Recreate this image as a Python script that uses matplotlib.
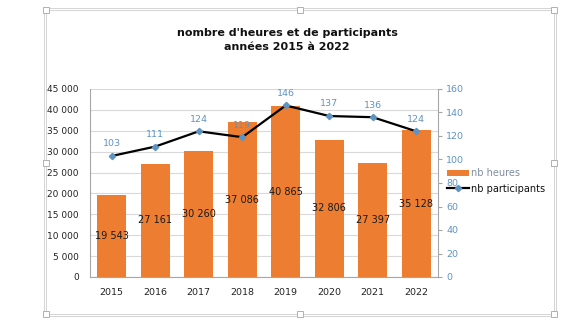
import matplotlib
matplotlib.use("Agg")
import matplotlib.pyplot as plt
from matplotlib.patches import Rectangle, Patch
from matplotlib.lines import Line2D

years = ["2015", "2016", "2017", "2018", "2019", "2020", "2021", "2022"]
heures = [19543, 27161, 30260, 37086, 40865, 32806, 27397, 35128]
participants = [103, 111, 124, 119, 146, 137, 136, 124]
left_ticks = [0, 5000, 10000, 15000, 20000, 25000, 30000, 35000, 40000, 45000]
right_ticks = [0, 20, 40, 60, 80, 100, 120, 140, 160]

ORANGE = "#ED7D31"
BLUE = "#5F93C2"
GRID = "#D9D9D9"
SPINE = "#A6A6A6"
FONT = "DejaVu Sans"

W, H = 573, 328
fig = plt.figure(figsize=(W / 100, H / 100), dpi=100)
fig.patch.set_facecolor("white")


def fx(px):
    return px / W


def fy(py):
    return 1 - py / H


ax = fig.add_axes([fx(90), fy(277), fx(438) - fx(90), fy(89) - fy(277)])
x = list(range(len(years)))

ax.set_axisbelow(True)
ax.yaxis.grid(True, color=GRID, linewidth=0.8)
ax.bar(x, heures, width=0.67, color=ORANGE, zorder=2)
ax.set_ylim(0, 45000)
ax.set_xlim(-0.5, len(years) - 0.5)
ax.set_yticks(left_ticks)
ax.set_yticklabels([f"{v:,}".replace(",", " ") for v in left_ticks],
                   fontsize=6.5, family=FONT, color="#222222")
ax.set_xticks(x)
ax.set_xticklabels(years, fontsize=6.8, family=FONT, color="#222222")
ax.tick_params(axis="x", length=0, pad=8)
ax.tick_params(axis="y", length=0, pad=8)
for side in ("top", "right"):
    ax.spines[side].set_visible(False)
for side in ("left", "bottom"):
    ax.spines[side].set_color(SPINE)
    ax.spines[side].set_linewidth(0.8)

for xi, v in zip(x, heures):
    ax.text(xi, v / 2, f"{v:,}".replace(",", " "), ha="center", va="center",
            fontsize=7, family=FONT, color="#1a1a1a", zorder=4)

ax2 = ax.twinx()
ax2.set_ylim(0, 160)
ax2.set_yticks(right_ticks)
ax2.set_yticklabels([str(v) for v in right_ticks], fontsize=6.8,
                    family=FONT, color=BLUE)
ax2.tick_params(axis="y", length=3, color=SPINE, pad=3, width=0.8)
for side in ("top", "left", "bottom"):
    ax2.spines[side].set_visible(False)
ax2.spines["right"].set_color(SPINE)
ax2.spines["right"].set_linewidth(0.8)

ax2.plot(x, participants, color="black", linewidth=1.6, marker="D",
         markersize=3.2, markerfacecolor=BLUE, markeredgecolor=BLUE, zorder=3)
for xi, v in zip(x, participants):
    ax2.annotate(str(v), (xi, v), xytext=(0, 5.5), textcoords="offset points",
                 ha="center", va="bottom", fontsize=6.8, family=FONT,
                 color=BLUE)

fig.text(fx(287), fy(40), "nombre d'heures et de participants\nannées 2015 à 2022",
         ha="center", va="center", fontsize=8, fontweight="bold",
         family=FONT, linespacing=1.45, color="#111111")

handles = [Patch(facecolor=ORANGE, edgecolor="none"),
           Line2D([0], [0], color="black", linewidth=1.6, marker="D",
                  markersize=3.2, markerfacecolor=BLUE, markeredgecolor=BLUE)]
leg = fig.legend(handles, ["nb heures", "nb participants"], loc="center left",
                 bbox_to_anchor=(fx(443), fy(181)), frameon=False,
                 prop={"family": FONT, "size": 7}, handlelength=2.3,
                 handleheight=0.6, handletextpad=0.2, labelspacing=0.55,
                 borderaxespad=0)
leg.get_texts()[0].set_color("#7f8ea0")
leg.get_texts()[1].set_color("#111111")

# chart frame with double border and selection handles
for off in (0, 2):
    fig.add_artist(Rectangle((fx(46 - off), fy(314 + off)),
                             fx(508 + 2 * off), fy(10 - off) - fy(314 + off),
                             transform=fig.transFigure, fill=False,
                             edgecolor="#d4d4d4", linewidth=0.7))
for hx, hy in [(46, 10), (300, 10), (554, 10), (46, 163), (554, 163),
               (46, 314), (300, 314), (554, 314)]:
    fig.add_artist(Rectangle((fx(hx - 3), fy(hy + 3)), fx(6), fy(0) - fy(6),
                             transform=fig.transFigure, facecolor="white",
                             edgecolor="#b0b0b0", linewidth=0.7, zorder=10))

fig.savefig("out.png", dpi=100)
